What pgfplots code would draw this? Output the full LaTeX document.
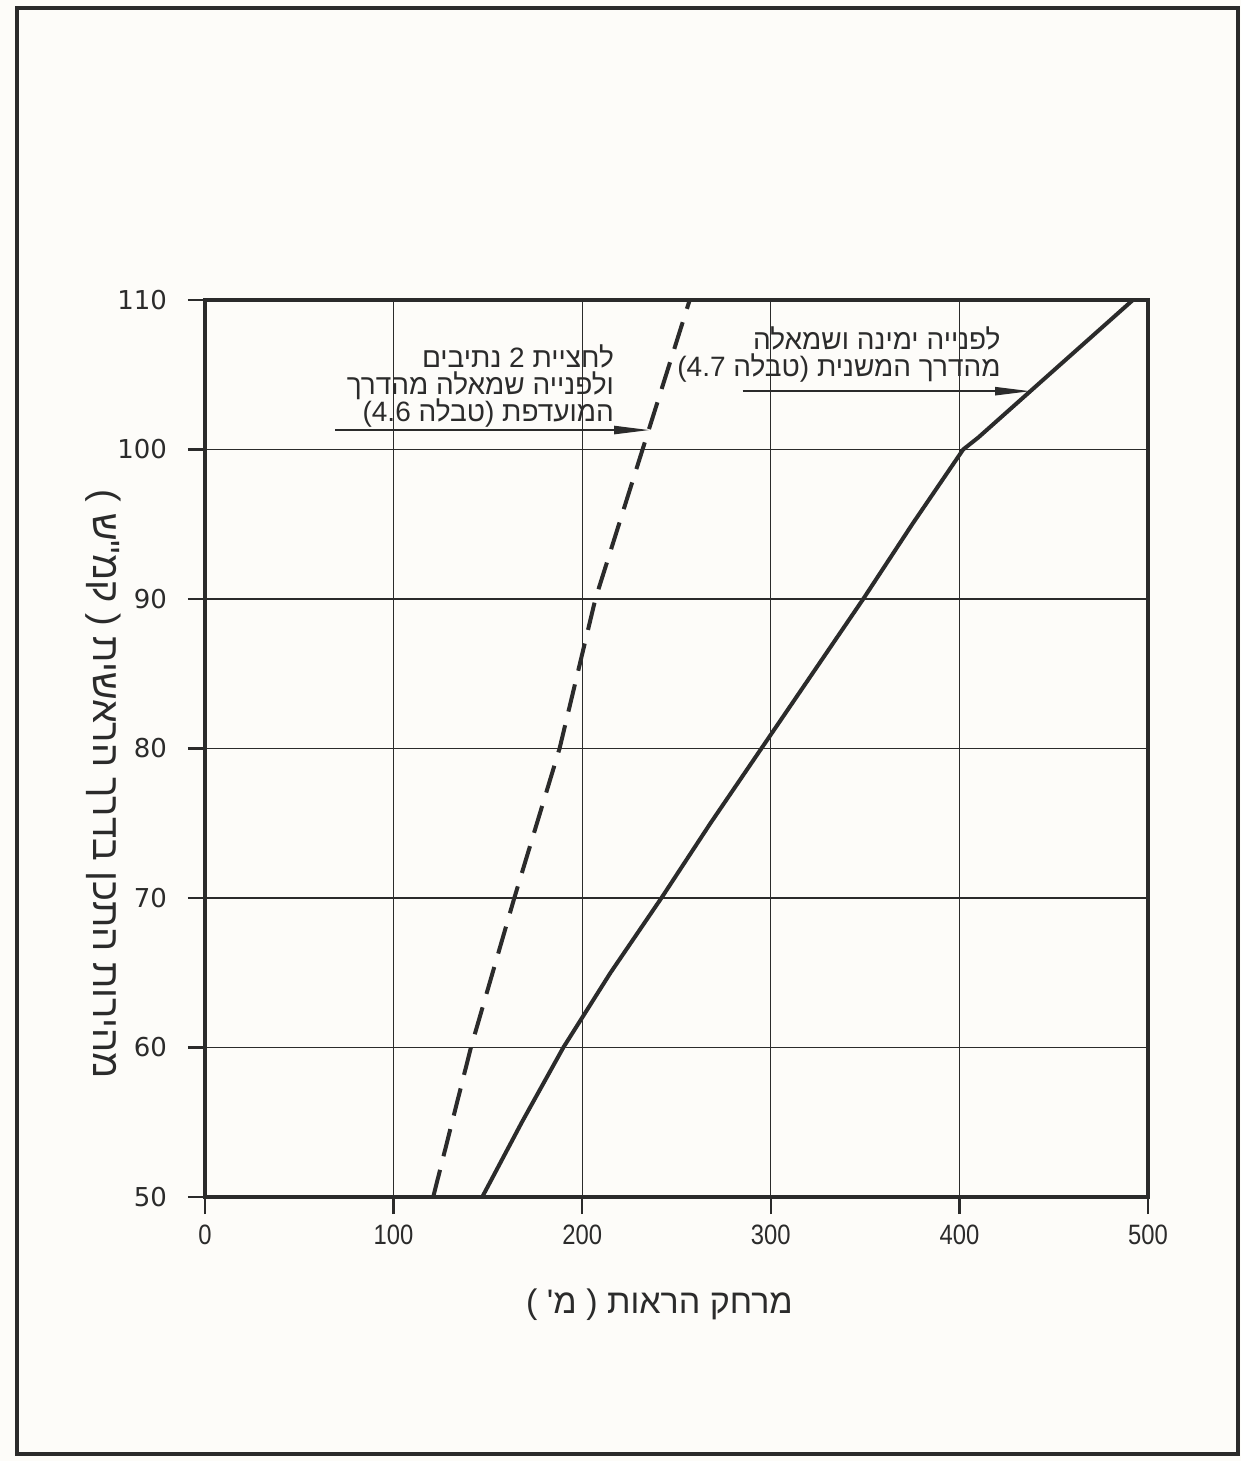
\documentclass[border=0pt]{standalone}
\usepackage{fontspec}
\usepackage{graphicx}
\usepackage{pgfplots}
\usepackage{pgfplotstable}
\pgfplotsset{compat=1.18}
\usetikzlibrary{arrows.meta}
\setmainfont{Liberation Sans}
\newfontfamily\hebfont[Script=Hebrew]{Liberation Sans}
\newfontfamily\tickfont{DejaVu Sans}
\TeXXeTstate=1
\definecolor{ink}{HTML}{2B2B2B}
\definecolor{paper}{HTML}{FDFCF9}

\pgfplotstableread{
y x
50 147
55 168
60 190
65 215
70 242
75 268
80 295
85 322
90 349
95 375
100 402
100.8 410
110 492
}\solidtab

\pgfplotstableread{
y x
50 121
60 141
70 164
80 188
90 207
100 232
110 257
}\dashtab

\begin{document}
\begin{tikzpicture}
\fill[paper] (-102.5pt,-132pt) rectangle (518pt,598.5pt);
\begin{axis}[
  scale only axis, width=471.5pt, height=448.5pt,
  at={(0,0)}, anchor=south west,
  xmin=0, xmax=500, ymin=50, ymax=110,
  xtick={0,100,...,500}, ytick={50,60,...,110},
  grid=major, major grid style={ink, line width=0.65pt},
  axis line style={ink, line width=2pt},
  tick pos=left, tick align=outside, major tick length=8.5pt,
  tick style={ink, line width=1.2pt},
  /pgf/number format/assume math mode=true,
  xticklabel={\scalebox{0.85}[1]{\pgfmathprintnumber{\tick}}},
  xticklabel style={font=\fontsize{14}{14}\selectfont, text=ink, yshift=-2pt},
  yticklabel style={font=\tickfont\fontsize{13}{13}\selectfont, text=ink, xshift=-7pt},
  xlabel={\hebfont\beginR מרחק הראות ( מ' )\endR},
  xlabel style={font=\fontsize{17}{17}\selectfont, text=ink, at={(axis description cs:0.482,0)}, anchor=center, yshift=-54pt},
  ylabel={\hebfont\beginR מהירות התכן בדרך הראשית ( קמ"ש )\endR},
  ylabel style={font=\fontsize{19}{19}\selectfont, text=ink, rotate=180, at={(axis description cs:-0.108,0.46)}, anchor=center},
]
\addplot[ink, line width=2pt] table[x=x, y=y] {\solidtab};
\addplot[ink, line width=2pt, dash pattern=on 14pt off 7pt] table[x=x, y=y] {\dashtab};

\begin{scope}[every node/.style={anchor=base east, inner sep=0pt, text=ink, font=\hebfont\fontsize{14}{14}\selectfont}]
\node at (axis cs:217,105.5) {\beginR לחציית \beginL 2\endL{} נתיבים\endR};
\node at (axis cs:217,103.7) {\beginR ולפנייה שמאלה מהדרך\endR};
\node at (axis cs:217,101.9) {\beginR המועדפת (\kern0pt טבלה \beginL 4.6\endL)\endR};
\node at (axis cs:422,106.7) {\beginR לפנייה ימינה ושמאלה\endR};
\node at (axis cs:422,104.9) {\beginR מהדרך המשנית (\kern0pt טבלה \beginL 4.7\endL)\endR};
\end{scope}
\draw[ink, line width=1.2pt, -{Triangle[length=18pt,width=4pt]}] (axis cs:69,101.3) -- (axis cs:236,101.3);
\draw[ink, line width=1.2pt, -{Triangle[length=18pt,width=4pt]}] (axis cs:285,103.9) -- (axis cs:438,103.9);
\end{axis}
\draw[ink, line width=2pt] (-94pt,-128.5pt) rectangle (516.5pt,594.5pt);
\end{tikzpicture}
\end{document}
